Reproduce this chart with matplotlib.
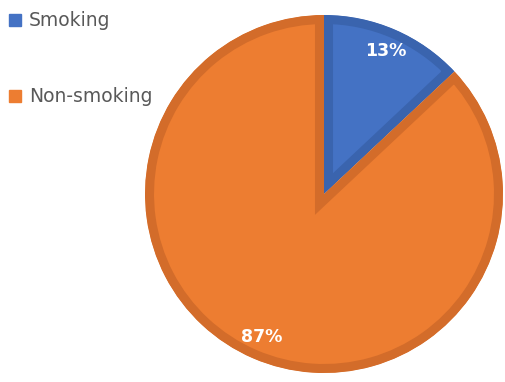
import matplotlib
matplotlib.use('Agg')
import matplotlib.pyplot as plt
from matplotlib.patches import Rectangle

labels = ['Smoking', 'Non-smoking']
values = [13, 87]
colors = ['#4472C4', '#ED7D31']
edge_colors = ['#3A64AE', '#D36C2A']

W, H = 506, 382
fig = plt.figure(figsize=(W / 100, H / 100), dpi=100)

# pie centre (324, 194) px, radius 179 px
cx, cy, r = 324, 194, 179
ax = fig.add_axes([(cx - r) / W, (H - cy - r) / H, 2 * r / W, 2 * r / H])

wedges, texts, autotexts = ax.pie(
    values, colors=colors, startangle=90, counterclock=False,
    autopct='%1.0f%%', pctdistance=0.87, radius=1.0,
    textprops=dict(color='white', fontsize=12.5, fontweight='bold'))

# darker inner border like the Excel style (clip the outer half of the stroke)
for w, ec in zip(wedges, edge_colors):
    w.set_edgecolor(ec)
    w.set_linewidth(13)
    w.set_clip_on(True)
    w.set_clip_path(w.get_path(), w.get_transform())

ax.set_xlim(-1, 1)
ax.set_ylim(-1, 1)
ax.set_aspect('auto')
ax.axis('off')

# legend, top left
leg_y = [20, 96]
for lab, col, y in zip(labels, colors, leg_y):
    fig.patches.append(Rectangle((9 / W, (H - y - 6) / H), 12 / W, 12 / H,
                                 transform=fig.transFigure, color=col))
    fig.text(29 / W, (H - y) / H, lab, fontsize=13.5, color='#595959',
             va='center', ha='left')

fig.savefig('out.png', dpi=100)
